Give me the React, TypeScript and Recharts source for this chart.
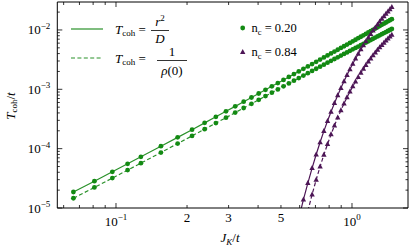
import React from 'react';
import { LineChart, Line, XAxis, YAxis } from 'recharts';

// J_K/t grid for the n_c = 0.20 curves
const jValues = [0.066, 0.081, 0.0965, 0.112, 0.1275, 0.155, 0.1825, 0.21, 0.2375, 0.265, 0.2925, 0.32, 0.3475, 0.375, 0.4025, 0.43, 0.4575, 0.485, 0.5125, 0.54, 0.5675, 0.595, 0.6225, 0.65, 0.6775, 0.705, 0.7325, 0.76, 0.7875, 0.815, 0.8425, 0.87, 0.8975, 0.925, 0.9525, 0.98, 1.0075, 1.035, 1.0625, 1.09, 1.1175, 1.145, 1.1725, 1.2, 1.2275, 1.255, 1.2825, 1.31, 1.3375, 1.365, 1.3925, 1.42, 1.4475, 1.475];
// n_c = 0.20, T_coh = r^2/D
const greenSolidT = [1.86e-5, 2.83e-5, 4.07e-5, 5.55e-5, 7.28e-5, 1.10e-4, 1.55e-4, 2.09e-4, 2.72e-4, 3.44e-4, 4.26e-4, 5.16e-4, 6.18e-4, 7.28e-4, 8.50e-4, 9.81e-4, 1.123e-3, 1.276e-3, 1.440e-3, 1.616e-3, 1.803e-3, 2.00e-3, 2.21e-3, 2.43e-3, 2.66e-3, 2.91e-3, 3.17e-3, 3.44e-3, 3.72e-3, 4.02e-3, 4.32e-3, 4.64e-3, 4.98e-3, 5.32e-3, 5.68e-3, 6.06e-3, 6.44e-3, 6.84e-3, 7.26e-3, 7.69e-3, 8.13e-3, 8.59e-3, 9.06e-3, 9.55e-3, 1.005e-2, 1.056e-2, 1.109e-2, 1.164e-2, 1.219e-2, 1.277e-2, 1.336e-2, 1.397e-2, 1.458e-2, 1.522e-2];
// n_c = 0.20, T_coh = 1/rho(0)
const greenDashedT = [1.46e-5, 2.22e-5, 3.19e-5, 4.35e-5, 5.70e-5, 8.60e-5, 1.22e-4, 1.64e-4, 2.13e-4, 2.70e-4, 3.33e-4, 4.05e-4, 4.84e-4, 5.70e-4, 6.66e-4, 7.68e-4, 8.79e-4, 9.97e-4, 1.122e-3, 1.256e-3, 1.398e-3, 1.547e-3, 1.703e-3, 1.867e-3, 2.04e-3, 2.22e-3, 2.41e-3, 2.60e-3, 2.81e-3, 3.02e-3, 3.24e-3, 3.46e-3, 3.70e-3, 3.94e-3, 4.19e-3, 4.45e-3, 4.71e-3, 4.98e-3, 5.26e-3, 5.55e-3, 5.85e-3, 6.15e-3, 6.46e-3, 6.78e-3, 7.11e-3, 7.44e-3, 7.78e-3, 8.13e-3, 8.49e-3, 8.85e-3, 9.23e-3, 9.61e-3, 9.99e-3, 1.039e-2];

// n_c = 0.84
const purpleSolidJ = [0.595, 0.6225, 0.65, 0.6775, 0.705, 0.7325, 0.76, 0.7875, 0.815, 0.8425, 0.87, 0.8975, 0.925, 0.9525, 0.98, 1.0075, 1.035, 1.0625, 1.09, 1.1175, 1.145, 1.1725, 1.2, 1.2275, 1.255, 1.2825, 1.31, 1.3375, 1.365, 1.3925, 1.42, 1.4475, 1.475];
const purpleSolidT = [6.66e-6, 1.38e-5, 2.63e-5, 4.71e-5, 7.96e-5, 1.28e-4, 1.97e-4, 2.92e-4, 4.19e-4, 5.83e-4, 7.92e-4, 1.049e-3, 1.363e-3, 1.738e-3, 2.18e-3, 2.69e-3, 3.28e-3, 3.94e-3, 4.70e-3, 5.53e-3, 6.45e-3, 7.45e-3, 8.55e-3, 9.73e-3, 1.101e-2, 1.237e-2, 1.382e-2, 1.536e-2, 1.698e-2, 1.868e-2, 2.047e-2, 2.234e-2, 2.427e-2];
const purpleDashedJ = [0.65, 0.6775, 0.705, 0.7325, 0.76, 0.7875, 0.815, 0.8425, 0.87, 0.8975, 0.925, 0.9525, 0.98, 1.0075, 1.035, 1.0625, 1.09, 1.1175, 1.145, 1.1725, 1.2, 1.2275, 1.255, 1.2825, 1.31, 1.3375, 1.365, 1.3925, 1.42, 1.4475, 1.475];
const purpleDashedT = [8.91e-6, 1.69e-5, 2.99e-5, 4.98e-5, 7.88e-5, 1.19e-4, 1.74e-4, 2.44e-4, 3.33e-4, 4.43e-4, 5.75e-4, 7.30e-4, 9.12e-4, 1.118e-3, 1.352e-3, 1.613e-3, 1.900e-3, 2.213e-3, 2.553e-3, 2.917e-3, 3.307e-3, 3.717e-3, 4.153e-3, 4.609e-3, 5.08e-3, 5.573e-3, 6.083e-3, 6.609e-3, 7.147e-3, 7.70e-3, 8.26e-3];

const xTicks = [0.06, 0.07, 0.08, 0.09, 0.1, 0.2, 0.3, 0.4, 0.5, 0.6, 0.7, 0.8, 0.9, 1];
const xMajor = [0.1, 1];
const xTickLabels = [
  { v: 0.1, base: '10', exp: '\u22121' },
  { v: 0.2, base: '2', exp: '' },
  { v: 0.3, base: '3', exp: '' },
  { v: 0.5, base: '5', exp: '' },
  { v: 1, base: '10', exp: '0' },
];
const yTicks = [1e-5, 2e-5, 3e-5, 4e-5, 5e-5, 6e-5, 7e-5, 8e-5, 9e-5, 1e-4, 2e-4, 3e-4, 4e-4, 5e-4, 6e-4, 7e-4, 8e-4, 9e-4, 1e-3, 2e-3, 3e-3, 4e-3, 5e-3, 6e-3, 7e-3, 8e-3, 9e-3, 1e-2, 2e-2];
const yMajor = [1e-5, 1e-4, 1e-3, 1e-2];
const yTickLabels = [
  { v: 1e-5, base: '10', exp: '\u22125' },
  { v: 1e-4, base: '10', exp: '\u22124' },
  { v: 1e-3, base: '10', exp: '\u22123' },
  { v: 1e-2, base: '10', exp: '\u22122' },
];

const X_DOMAIN = [0.0564, 1.727];
const Y_DOMAIN = [1e-5, 0.0296];

const GREEN_LINE = '#2a912a';
const GREEN_DOT = '#138a13';
const PURPLE = '#4d1656';
const FONT = "'Liberation Serif', 'Times New Roman', 'DejaVu Serif', serif";
const FS = { fontFamily: FONT };

const same = (a: number, b: number) => Math.abs(a - b) / b < 1e-6;

const greenSolidData = jValues.map((j, i) => ({ j, t: greenSolidT[i] }));
const greenDashedData = jValues.map((j, i) => ({ j, t: greenDashedT[i] }));
const purpleSolidData = purpleSolidJ.map((j, i) => ({ j, t: purpleSolidT[i] }));
const purpleDashedData = purpleDashedJ.map((j, i) => ({ j, t: purpleDashedT[i] }));

const BottomTick = (props: any) => {
  const { x, y, payload } = props;
  const v = payload.value;
  const major = xMajor.some((m) => same(v, m));
  const lab = xTickLabels.find((l) => same(v, l.v));
  return (
    <g>
      <line x1={x} x2={x} y1={y} y2={y - (major ? 5 : 3)} stroke="#000" strokeWidth={0.8} />
      {lab && (lab.exp ? (
        <text x={x} y={y + 17.5} textAnchor="middle" style={FS} fontSize={13} fill="#000">
          {lab.base}
          <tspan dy={-5.5} fontSize={9}>{lab.exp}</tspan>
        </text>
      ) : (
        <text x={x} y={y + 13.5} textAnchor="middle" style={FS} fontSize={13} fill="#000">{lab.base}</text>
      ))}
    </g>
  );
};

const TopTick = (props: any) => {
  const { x, y, payload } = props;
  const major = xMajor.some((m) => same(payload.value, m));
  return <line x1={x} x2={x} y1={y} y2={y + (major ? 5 : 3)} stroke="#000" strokeWidth={0.8} />;
};

const LeftTick = (props: any) => {
  const { x, y, payload } = props;
  const v = payload.value;
  const major = yMajor.some((m) => same(v, m));
  const lab = yTickLabels.find((l) => same(v, l.v));
  return (
    <g>
      <line x1={x} x2={x + (major ? 5 : 2.5)} y1={y} y2={y} stroke="#000" strokeWidth={0.8} />
      {lab && (
        <text x={x - 7} y={y + 4.5} textAnchor="end" style={FS} fontSize={13} fill="#000">
          {lab.base}
          <tspan dy={-5.5} fontSize={9}>{lab.exp}</tspan>
        </text>
      )}
    </g>
  );
};

const RightTick = (props: any) => {
  const { x, y, payload } = props;
  const major = yMajor.some((m) => same(payload.value, m));
  return <line x1={x} x2={x - (major ? 5 : 2.5)} y1={y} y2={y} stroke="#000" strokeWidth={0.8} />;
};

const circleDot = (props: any) => {
  const { cx, cy, index } = props;
  if (cx == null || cy == null) return <g key={`c-${index}`} />;
  return <circle key={`c-${index}`} cx={cx} cy={cy} r={2.4} fill={GREEN_DOT} stroke="none" />;
};

const triDot = (props: any) => {
  const { cx, cy, index } = props;
  if (cx == null || cy == null) return <g key={`t-${index}`} />;
  return (
    <path
      key={`t-${index}`}
      d={`M${cx},${cy - 3.1} L${cx + 2.7},${cy + 1.9} L${cx - 2.7},${cy + 1.9} Z`}
      fill={PURPLE}
      stroke="none"
    />
  );
};

const Overlay = () => (
  <svg width={415} height={249} style={{ position: 'absolute', left: 0, top: 0, pointerEvents: 'none', fontFamily: FONT }}>
    <g fill="#000" style={FS}>
      {/* legend: definitions */}
      <line x1={71} x2={103} y1={29} y2={29} stroke={GREEN_LINE} strokeWidth={1.2} />
      <text x={115} y={33.5} fontSize={13} style={FS}>
        <tspan fontStyle="italic">T</tspan>
        <tspan fontSize={9} dy={2.5}>coh</tspan>
        <tspan dy={-2.5}>{' ='}</tspan>
      </text>
      <text x={160} y={26} fontSize={13} textAnchor="middle" style={FS}>
        <tspan fontStyle="italic">r</tspan>
        <tspan fontSize={9} dy={-5}>2</tspan>
      </text>
      <line x1={151} x2={169} y1={30.5} y2={30.5} stroke="#000" strokeWidth={0.8} />
      <text x={160} y={43} fontSize={13} textAnchor="middle" fontStyle="italic" style={FS}>D</text>

      <line x1={71} x2={103} y1={58} y2={58} stroke={GREEN_LINE} strokeWidth={1.2} strokeDasharray="4 2.4" />
      <text x={115} y={62.5} fontSize={13} style={FS}>
        <tspan fontStyle="italic">T</tspan>
        <tspan fontSize={9} dy={2.5}>coh</tspan>
        <tspan dy={-2.5}>{' ='}</tspan>
      </text>
      <text x={172} y={56} fontSize={13} textAnchor="middle" style={FS}>1</text>
      <line x1={157} x2={187} y1={60.5} y2={60.5} stroke="#000" strokeWidth={0.8} />
      <text x={172} y={75} fontSize={13} textAnchor="middle" style={FS}>
        <tspan fontStyle="italic">{'\u03c1'}</tspan>(0)
      </text>

      {/* legend: fillings */}
      <circle cx={242.7} cy={28} r={2.4} fill={GREEN_DOT} />
      <text x={251.5} y={32} fontSize={12.5} style={FS}>
        n<tspan fontSize={8.5} dy={2.5}>c</tspan>
        <tspan dy={-2.5}>{' = 0.20'}</tspan>
      </text>
      <path d="M242.7,48.9 L245.4,53.9 L240,53.9 Z" fill={PURPLE} />
      <text x={251.5} y={56} fontSize={12.5} style={FS}>
        n<tspan fontSize={8.5} dy={2.5}>c</tspan>
        <tspan dy={-2.5}>{' = 0.84'}</tspan>
      </text>

      {/* axis titles */}
      <text x={230} y={242} fontSize={13} textAnchor="middle" style={FS}>
        <tspan fontStyle="italic">J</tspan>
        <tspan fontStyle="italic" fontSize={9} dy={2.5}>K</tspan>
        <tspan dy={-2.5}>/</tspan>
        <tspan fontStyle="italic">t</tspan>
      </text>
      <text transform="translate(14.5,106) rotate(-90)" fontSize={13} textAnchor="middle" style={FS}>
        <tspan fontStyle="italic">T</tspan>
        <tspan fontSize={9} dy={2.5}>coh</tspan>
        <tspan dy={-2.5}>/</tspan>
        <tspan fontStyle="italic">t</tspan>
      </text>
    </g>
  </svg>
);

export default function App() {
  return (
    <div style={{ position: 'absolute', left: 0, top: 0, width: 415, height: 249, background: '#fff', fontFamily: FONT }}>
      <LineChart width={415} height={249} margin={{ top: 0, right: 0, bottom: 0, left: 0 }}>
        <XAxis
          xAxisId="b"
          orientation="bottom"
          type="number"
          dataKey="j"
          scale="log"
          domain={X_DOMAIN}
          allowDataOverflow
          ticks={xTicks}
          interval={0}
          height={41}
          tickSize={0}
          tickMargin={0}
          tickLine={false}
          tick={<BottomTick />}
          axisLine={{ stroke: '#000', strokeWidth: 1 }}
        />
        <XAxis
          xAxisId="t"
          orientation="top"
          type="number"
          dataKey="j"
          scale="log"
          domain={X_DOMAIN}
          allowDataOverflow
          ticks={xTicks}
          interval={0}
          height={2}
          tickSize={0}
          tickMargin={0}
          tickLine={false}
          tick={<TopTick />}
          axisLine={{ stroke: '#000', strokeWidth: 1 }}
        />
        <YAxis
          yAxisId="l"
          orientation="left"
          type="number"
          dataKey="t"
          scale="log"
          domain={Y_DOMAIN}
          allowDataOverflow
          ticks={yTicks}
          interval={0}
          width={57.3}
          tickSize={0}
          tickMargin={0}
          tickLine={false}
          tick={<LeftTick />}
          axisLine={{ stroke: '#000', strokeWidth: 1 }}
        />
        <YAxis
          yAxisId="r"
          orientation="right"
          type="number"
          dataKey="t"
          scale="log"
          domain={Y_DOMAIN}
          allowDataOverflow
          ticks={yTicks}
          interval={0}
          width={7}
          tickSize={0}
          tickMargin={0}
          tickLine={false}
          tick={<RightTick />}
          axisLine={{ stroke: '#000', strokeWidth: 1 }}
        />
        <Line xAxisId="b" yAxisId="l" data={greenSolidData} dataKey="t" type="linear" stroke={GREEN_LINE} strokeWidth={1.2} dot={circleDot} activeDot={false} isAnimationActive={false} />
        <Line xAxisId="b" yAxisId="l" data={greenDashedData} dataKey="t" type="linear" stroke={GREEN_LINE} strokeWidth={1.2} strokeDasharray="4 2.4" dot={circleDot} activeDot={false} isAnimationActive={false} />
        <Line xAxisId="b" yAxisId="l" data={purpleSolidData} dataKey="t" type="linear" stroke={PURPLE} strokeWidth={1.2} dot={triDot} activeDot={false} isAnimationActive={false} />
        <Line xAxisId="b" yAxisId="l" data={purpleDashedData} dataKey="t" type="linear" stroke={PURPLE} strokeWidth={1.2} strokeDasharray="4 2.4" dot={triDot} activeDot={false} isAnimationActive={false} />
      </LineChart>
      <Overlay />
    </div>
  );
}
